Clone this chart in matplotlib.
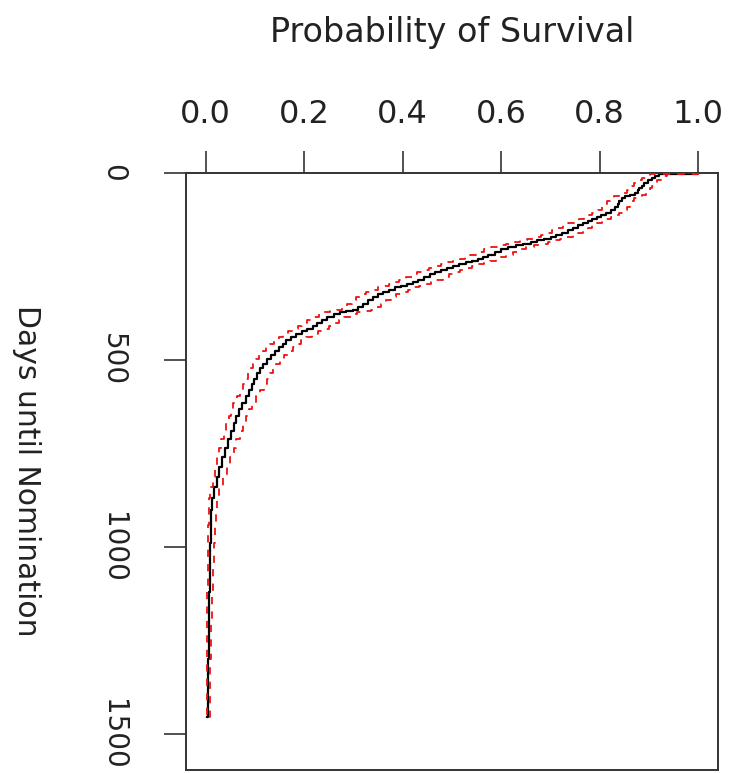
import matplotlib
matplotlib.use("Agg")
import matplotlib.pyplot as plt

# Kaplan-Meier estimate of time until nomination, with 95% confidence band
days = [0, 2, 8, 14, 20, 27, 34, 40, 46, 53,
        58, 62, 67, 74, 82, 90, 99, 106, 112, 118,
        124, 129, 134, 140, 147, 153, 160, 166, 171, 176,
        180, 184, 189, 193, 198, 204, 211, 218, 224, 229,
        234, 239, 244, 249, 255, 260, 265, 271, 278, 285,
        291, 296, 301, 306, 312, 318, 324, 331, 340, 350,
        359, 366, 368, 372, 378, 385, 392, 400, 408, 416,
        423, 430, 438, 447, 456, 465, 475, 486, 498, 510,
        522, 536, 550, 565, 580, 596, 615, 632, 650, 668,
        690, 712, 735, 760, 785, 812, 840, 870, 900, 940,
        990, 1050, 1120, 1200, 1300, 1380, 1455]
surv = [1.0, 0.92, 0.912, 0.905, 0.897, 0.89, 0.885, 0.88, 0.878, 0.872,
        0.862, 0.852, 0.845, 0.84, 0.836, 0.83, 0.822, 0.812, 0.803, 0.795,
        0.785, 0.776, 0.765, 0.755, 0.745, 0.735, 0.724, 0.712, 0.70, 0.686,
        0.672, 0.66, 0.645, 0.63, 0.614, 0.60, 0.587, 0.573, 0.562, 0.553,
        0.54, 0.528, 0.515, 0.503, 0.49, 0.478, 0.466, 0.455, 0.443, 0.43,
        0.42, 0.408, 0.396, 0.385, 0.372, 0.36, 0.35, 0.34, 0.33, 0.32,
        0.31, 0.30, 0.285, 0.272, 0.26, 0.247, 0.236, 0.226, 0.217, 0.206,
        0.195, 0.184, 0.174, 0.164, 0.156, 0.148, 0.14, 0.132, 0.124, 0.117,
        0.111, 0.105, 0.099, 0.094, 0.088, 0.081, 0.073, 0.067, 0.062, 0.057,
        0.051, 0.045, 0.04, 0.034, 0.028, 0.022, 0.016, 0.013, 0.011, 0.010,
        0.009, 0.008, 0.007, 0.006, 0.005, 0.004, 0.003]
lower = [1.0, 0.902, 0.893, 0.885, 0.877, 0.869, 0.864, 0.858, 0.856, 0.850,
         0.839, 0.828, 0.821, 0.815, 0.811, 0.804, 0.796, 0.785, 0.776, 0.767,
         0.757, 0.747, 0.736, 0.725, 0.714, 0.704, 0.692, 0.680, 0.667, 0.652,
         0.638, 0.625, 0.610, 0.595, 0.579, 0.565, 0.551, 0.537, 0.526, 0.517,
         0.503, 0.491, 0.478, 0.466, 0.453, 0.441, 0.429, 0.418, 0.406, 0.393,
         0.383, 0.372, 0.360, 0.349, 0.337, 0.325, 0.315, 0.306, 0.296, 0.287,
         0.277, 0.267, 0.253, 0.240, 0.229, 0.216, 0.206, 0.196, 0.188, 0.177,
         0.167, 0.157, 0.148, 0.138, 0.131, 0.123, 0.116, 0.109, 0.102, 0.096,
         0.090, 0.085, 0.079, 0.075, 0.070, 0.063, 0.056, 0.051, 0.047, 0.042,
         0.037, 0.032, 0.028, 0.023, 0.018, 0.014, 0.009, 0.007, 0.006, 0.005,
         0.005, 0.004, 0.003, 0.003, 0.002, 0.002, 0.001]
upper = [1.0, 0.937, 0.930, 0.924, 0.917, 0.910, 0.906, 0.901, 0.899, 0.894,
         0.885, 0.876, 0.869, 0.864, 0.861, 0.856, 0.848, 0.839, 0.830, 0.823,
         0.813, 0.805, 0.794, 0.785, 0.776, 0.766, 0.756, 0.745, 0.733, 0.720,
         0.706, 0.695, 0.680, 0.666, 0.650, 0.636, 0.623, 0.610, 0.599, 0.590,
         0.577, 0.565, 0.553, 0.541, 0.528, 0.516, 0.504, 0.493, 0.481, 0.468,
         0.458, 0.446, 0.434, 0.423, 0.410, 0.397, 0.387, 0.377, 0.366, 0.356,
         0.346, 0.336, 0.321, 0.307, 0.295, 0.281, 0.270, 0.259, 0.250, 0.238,
         0.227, 0.215, 0.204, 0.193, 0.185, 0.177, 0.168, 0.159, 0.151, 0.143,
         0.137, 0.130, 0.124, 0.118, 0.111, 0.103, 0.094, 0.087, 0.082, 0.076,
         0.069, 0.062, 0.057, 0.050, 0.043, 0.035, 0.028, 0.023, 0.020, 0.018,
         0.016, 0.014, 0.012, 0.011, 0.009, 0.008, 0.007]

prob_ticks = [0.0, 0.2, 0.4, 0.6, 0.8, 1.0]
prob_labels = ["0.0", "0.2", "0.4", "0.6", "0.8", "1.0"]
day_ticks = [0, 500, 1000, 1500]
day_labels = ["0", "500", "1000", "1500"]

plt.rcParams["font.family"] = ["DejaVu Sans"]

W, H = 732, 773
fig = plt.figure(figsize=(W / 100, H / 100), dpi=100)
ax = fig.add_axes([186 / W, 1 - 770 / H, (718 - 186) / W, (770 - 173) / H])

ax.plot(surv, days, color="black", lw=1.6, drawstyle="steps-pre", zorder=2)
ax.plot(lower, days, color="#ee1111", lw=1.3, ls=(0, (4, 4)),
        drawstyle="steps-pre", zorder=3)
ax.plot(upper, days, color="#ee1111", lw=1.3, ls=(0, (4, 4)),
        drawstyle="steps-pre", zorder=3)

ax.set_xlim(-0.04, 1.04)
ax.set_ylim(1596, 0)

ax.xaxis.tick_top()
ax.set_xticks(prob_ticks, prob_labels)
ax.set_yticks(day_ticks, day_labels)
ax.tick_params(axis="x", length=15.8, width=1.2, pad=15, labelsize=23,
               color="#333333", labelcolor="#222222")
ax.tick_params(axis="y", length=15.8, width=1.2, pad=26.6, labelsize=20,
               color="#333333", labelcolor="#222222", labelrotation=-90)
for lab in ax.get_yticklabels():
    lab.set_verticalalignment("center")

for sp in ax.spines.values():
    sp.set_linewidth(1.4)
    sp.set_color("#333333")

fig.text(452 / W, 1 - 42 / H, "Probability of Survival", ha="center",
         va="baseline", fontsize=24, color="#222222")
fig.text(26 / W, 1 - 471 / H, "Days until Nomination", ha="center",
         va="center", rotation=-90, fontsize=21.5, color="#222222")

fig.savefig("out.png", dpi=100)
